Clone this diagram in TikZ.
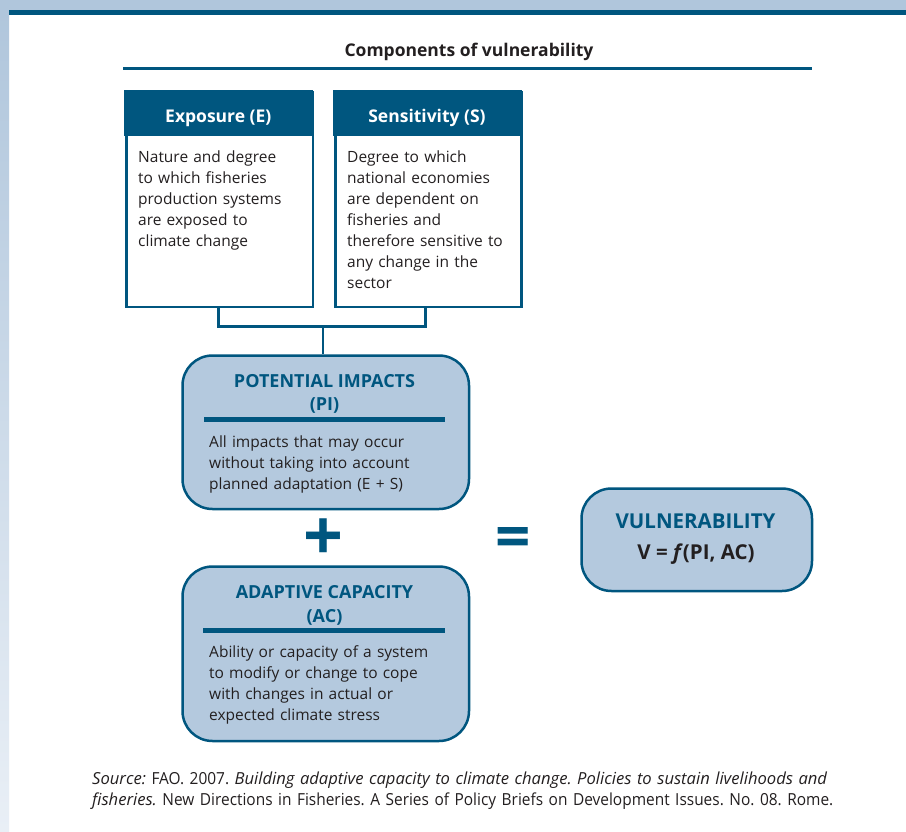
\documentclass[tikz,border=0pt]{standalone}
\usepackage{fontspec}
\setmainfont{Open Sans}
\newfontfamily\srcfont{Open Sans}[UprightFeatures={FakeStretch=0.93}]
\definecolor{dblue}{HTML}{00567F}
\definecolor{lblue}{HTML}{B4C9DE}
\definecolor{band}{HTML}{B0C6DC}
\definecolor{bandlight}{HTML}{E9EFF6}
\definecolor{txt}{HTML}{231F20}
\tikzset{
  hdr/.style={fill=dblue, inner sep=0, anchor=north west, minimum width=188.6, minimum height=46},
  hdrtxt/.style={text=white, font=\fontsize{17.5}{21}\selectfont\bfseries, anchor=base, inner sep=0},
  sqbox/.style={draw=dblue, line width=2.5, anchor=north west, inner sep=0, minimum height=214.5},
  body/.style={text=txt, font=\fontsize{15.5}{21}\selectfont, anchor=base west, inner sep=0, text width=300, align=left},
  rbox/.style={draw=dblue, fill=lblue, line width=2.5, rounded corners=30, anchor=north west, inner sep=0},
  rtitle/.style={text=dblue, font=\fontsize{18}{24}\selectfont\bfseries, anchor=base, inner sep=0},
  vtitle/.style={font=\fontsize{20.5}{24}\selectfont\bfseries, anchor=base, inner sep=0},
  bar/.style={draw=dblue, line width=5},
  conn/.style={draw=dblue, line width=2.5},
  sign/.style={text=dblue, font=\fontsize{#1}{60}\selectfont\bfseries, inner sep=0},
}
\begin{document}
\begin{tikzpicture}[x=1pt,y=-1pt]
\useasboundingbox (0,0) rectangle (906,831);
\fill[white] (0,0) rectangle (906,831);
% page decoration
\fill[band] (0,0) rectangle (906,10);
\shade[top color=band, bottom color=bandlight] (0,10) rectangle (9,831);
\fill[dblue] (9,10) rectangle (906,15);

% title
\node[text=txt, font=\fontsize{17.5}{21}\selectfont\bfseries, anchor=base, inner sep=0] (title) at (469,56.7) {Components of vulnerability};
\coordinate (tl) at (123,68);
\coordinate (tr) at (812,68);
\draw[dblue, line width=3] (tl) -- (tr);

% Exposure
\node[sqbox, minimum width=186.3] (expo) at (125.25,91.25) {};
\node[hdr] (expoh) at (124,90) {};
\node[hdrtxt] (expot) at (218.3,122) {Exposure (E)};
\node[body] (expob) at (138,162) {Nature and degree\\to which fisheries\\production systems\\are exposed to\\climate change};

% Sensitivity
\node[sqbox, minimum width=185.8] (sens) at (334.25,91.25) {};
\node[hdr, minimum width=188.3] (sensh) at (333,90) {};
\node[hdrtxt] (senst) at (427,122) {Sensitivity (S)};
\node[body] (sensb) at (347,162) {Degree to which\\national economies\\are dependent on\\fisheries and\\therefore sensitive to\\any change in the\\sector};

% Potential impacts
\node[rbox, minimum width=286.5, minimum height=153.5] (pi) at (181.25,354.25) {};
\node[rtitle] (pit1) at (324.5,387.3) {POTENTIAL IMPACTS};
\node[rtitle] (pit2) at (324.5,410.7) {(PI)};
\coordinate (pil) at (204,419.5);
\coordinate (pir) at (445,419.5);
\draw[bar] (pil) -- (pir);
\node[body] (pib) at (209,447) {All impacts that may occur\\without taking into account\\planned adaptation (E + S)};

% connectors
\coordinate (join) at (323,326.5);
\draw[conn] ([xshift=-1.3pt]expo.south) |- (join) -| ([xshift=-3pt]sens.south);
\draw[conn] (join) -- (join |- pi.north);

% plus
\node[sign=70] (plus) at (323.8,540) {+};

% Adaptive capacity
\node[rbox, minimum width=286.5, minimum height=174.5] (ac) at (181.25,565.25) {};
\node[rtitle] (act1) at (324.5,598.3) {ADAPTIVE CAPACITY};
\node[rtitle] (act2) at (324.5,622) {(AC)};
\coordinate (acl) at (203,630.5);
\coordinate (acr) at (445,630.5);
\draw[bar] (acl) -- (acr);
\node[body] (acb) at (209,657) {Ability or capacity of a system\\to modify or change to cope\\with changes in actual or\\expected climate stress};

% equals
\node[sign=62] (eq) at (513.3,543) {=};

% Vulnerability
\node[rbox, minimum width=230.5, minimum height=102.5] (vul) at (580.25,487.25) {};
\node[vtitle, text=dblue] (vult) at (695.5,528) {VULNERABILITY};
\node[vtitle, text=txt] (vulf) at (696,559) {V = \textit{f}(PI, AC)};

% source
\node[text=txt, font=\srcfont\fontsize{16.6}{21}\selectfont\frenchspacing, anchor=base west, inner sep=0, text width=840, align=left] (src) at (92,784)
 {\textit{Source:} FAO. 2007. \textit{Building adaptive capacity to climate change. Policies to sustain livelihoods and}\\\textit{fisheries.} New Directions in Fisheries. A Series of Policy Briefs on Development Issues. No. 08. Rome.};
\end{tikzpicture}
\end{document}
